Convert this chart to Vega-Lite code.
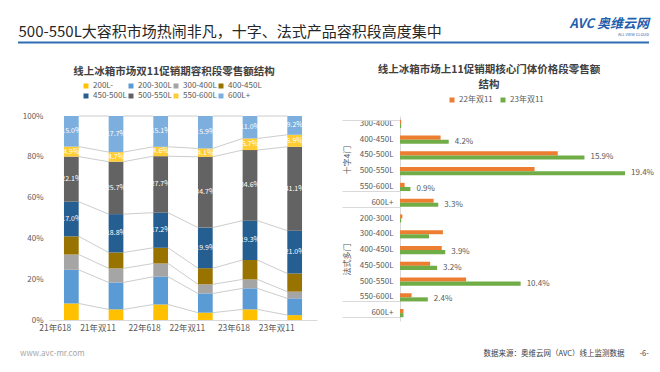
{
  "$schema": "https://vega.github.io/schema/vega-lite/v6.json",
  "background": "white",
  "padding": {"left": 17, "top": 17, "right": 0, "bottom": 0},
  "config": {
    "font": "Noto Sans CJK SC",
    "view": {"stroke": null},
    "axis": {"labelFont": "Noto Sans CJK SC", "titleFont": "Noto Sans CJK SC"},
    "legend": {"labelFont": "Noto Sans CJK SC"},
    "title": {"font": "Noto Sans CJK SC", "subtitleFont": "Noto Sans CJK SC"}
  },
  "spacing": 20,
  "resolve": {"scale": {"color": "independent"}, "legend": {"color": "independent"}},
  "vconcat": [
    {
      "width": 600,
      "height": 1,
      "title": {"text": "AVC 奥维云网", "subtitle": "ALL VIEW CLOUD", "orient": "bottom", "anchor": "end", "frame": "group", "offset": -26,
        "fontSize": 13, "fontWeight": "bold", "fontStyle": "italic", "color": "#1F5FAD",
        "subtitleFontSize": 4, "subtitleColor": "#1F5FAD", "subtitlePadding": 2},
      "data": {"values": [{}]},
      "mark": {"type": "rule", "color": "#2E6DB4", "strokeWidth": 2},
      "encoding": {
        "x": {"datum": 0, "type": "quantitative", "scale": {"domain": [0, 1], "range": [-31, 600]},
          "axis": {"orient": "bottom", "domain": false, "ticks": false, "labels": false, "grid": false,
            "title": "500-550L大容积市场热闹非凡，十字、法式产品容积段高度集中",
            "titleX": -31, "titleY": -7, "titleAlign": "left", "titleBaseline": "alphabetic",
            "titleFontSize": 15, "titleFontWeight": "normal", "titleColor": "#262626"}},
        "x2": {"datum": 1}
      }
    },
    {
      "spacing": 14,
      "resolve": {"scale": {"color": "independent"}, "legend": {"color": "independent"}},
      "vconcat": [
        {
          "spacing": 24,
          "resolve": {"scale": {"color": "independent"}, "legend": {"color": "independent"}},
          "hconcat": [
            {
              "width": 268,
              "height": 204,
              "title": {"text": "线上冰箱市场双11促销期容积段零售额结构", "fontSize": 10.5, "fontWeight": "bold", "color": "#404040", "offset": 5, "anchor": "middle", "dx": -9},
              "data": {"values": [
                {"period": "21年618", "seg": "200L-", "v": 0.081},
                {"period": "21年618", "seg": "200-300L", "v": 0.165},
                {"period": "21年618", "seg": "300-400L", "v": 0.075},
                {"period": "21年618", "seg": "400-450L", "v": 0.089},
                {"period": "21年618", "seg": "450-500L", "v": 0.170},
                {"period": "21年618", "seg": "500-550L", "v": 0.221},
                {"period": "21年618", "seg": "550-600L", "v": 0.049},
                {"period": "21年618", "seg": "600L+", "v": 0.150},
                {"period": "21年双11", "seg": "200L-", "v": 0.052},
                {"period": "21年双11", "seg": "200-300L", "v": 0.132},
                {"period": "21年双11", "seg": "300-400L", "v": 0.069},
                {"period": "21年双11", "seg": "400-450L", "v": 0.078},
                {"period": "21年双11", "seg": "450-500L", "v": 0.188},
                {"period": "21年双11", "seg": "500-550L", "v": 0.257},
                {"period": "21年双11", "seg": "550-600L", "v": 0.047},
                {"period": "21年双11", "seg": "600L+", "v": 0.177},
                {"period": "22年618", "seg": "200L-", "v": 0.076},
                {"period": "22年618", "seg": "200-300L", "v": 0.136},
                {"period": "22年618", "seg": "300-400L", "v": 0.065},
                {"period": "22年618", "seg": "400-450L", "v": 0.077},
                {"period": "22年618", "seg": "450-500L", "v": 0.172},
                {"period": "22年618", "seg": "500-550L", "v": 0.277},
                {"period": "22年618", "seg": "550-600L", "v": 0.046},
                {"period": "22年618", "seg": "600L+", "v": 0.151},
                {"period": "22年双11", "seg": "200L-", "v": 0.036},
                {"period": "22年双11", "seg": "200-300L", "v": 0.094},
                {"period": "22年双11", "seg": "300-400L", "v": 0.045},
                {"period": "22年双11", "seg": "400-450L", "v": 0.079},
                {"period": "22年双11", "seg": "450-500L", "v": 0.199},
                {"period": "22年双11", "seg": "500-550L", "v": 0.347},
                {"period": "22年双11", "seg": "550-600L", "v": 0.041},
                {"period": "22年双11", "seg": "600L+", "v": 0.159},
                {"period": "23年618", "seg": "200L-", "v": 0.052},
                {"period": "23年618", "seg": "200-300L", "v": 0.103},
                {"period": "23年618", "seg": "300-400L", "v": 0.044},
                {"period": "23年618", "seg": "400-450L", "v": 0.095},
                {"period": "23年618", "seg": "450-500L", "v": 0.193},
                {"period": "23年618", "seg": "500-550L", "v": 0.346},
                {"period": "23年618", "seg": "550-600L", "v": 0.057},
                {"period": "23年618", "seg": "600L+", "v": 0.110},
                {"period": "23年双11", "seg": "200L-", "v": 0.024},
                {"period": "23年双11", "seg": "200-300L", "v": 0.082},
                {"period": "23年双11", "seg": "300-400L", "v": 0.033},
                {"period": "23年双11", "seg": "400-450L", "v": 0.089},
                {"period": "23年双11", "seg": "450-500L", "v": 0.210},
                {"period": "23年双11", "seg": "500-550L", "v": 0.411},
                {"period": "23年双11", "seg": "550-600L", "v": 0.059},
                {"period": "23年双11", "seg": "600L+", "v": 0.092}
              ]},
              "transform": [
                {"stack": "v", "groupby": ["period"], "as": ["v0", "v1"]},
                {"window": [{"op": "lead", "field": "v1", "as": "nv1"}, {"op": "lead", "field": "period", "as": "np"}], "groupby": ["seg"], "sort": [{"field": "period", "order": "ascending"}]}
              ],
              "layer": [
                {
                  "transform": [{"filter": "isValid(datum.np)"}],
                  "mark": {"type": "rule", "color": "#BFBFBF", "strokeWidth": 0.8},
                  "encoding": {
                    "x": {"field": "period", "type": "nominal", "bandPosition": 1},
                    "x2": {"field": "np", "bandPosition": 0},
                    "y": {"field": "v1", "type": "quantitative"},
                    "y2": {"field": "nv1"}
                  }
                },
                {
                  "mark": {"type": "bar"},
                  "encoding": {
                    "x": {"field": "period", "type": "nominal", "sort": null,
                      "scale": {"paddingInner": 0.67, "paddingOuter": 0.335},
                      "axis": {"title": null, "labelAngle": 0, "labelFontSize": 8.5, "labelColor": "#595959", "labelPadding": 7, "ticks": false, "bandPosition": 0.5, "domainColor": "#D9D9D9", "domainWidth": 1}},
                    "y": {"field": "v1", "type": "quantitative",
                      "scale": {"domain": [0, 1], "nice": false},
                      "axis": {"title": null, "values": [0, 0.1, 0.2, 0.3, 0.4, 0.5, 0.6, 0.7, 0.8, 0.9, 1], "format": ".0%", "grid": false, "domain": false, "ticks": false, "labelFontSize": 8, "labelColor": "#595959", "labelPadding": 6, "minExtent": 31}},
                    "y2": {"field": "v0"},
                    "color": {"field": "seg", "type": "nominal",
                      "scale": {"domain": ["200L-", "200-300L", "300-400L", "400-450L", "450-500L", "500-550L", "550-600L", "600L+"],
                        "range": ["#FFC000", "#5B9BD5", "#A5A5A5", "#997300", "#255E91", "#636363", "#FFCD33", "#7CAFDD"]},
                      "legend": {"orient": "none", "legendX": 33, "legendY": -34, "columns": 4, "direction": "horizontal", "title": null,
                        "symbolType": "square", "symbolSize": 25, "symbolStrokeWidth": 0, "labelFontSize": 8, "labelColor": "#595959",
                        "columnPadding": 0, "rowPadding": 2, "labelOffset": 3}}
                  }
                },
                {
                  "mark": {"type": "text", "color": "white", "fontSize": 7},
                  "encoding": {
                    "x": {"field": "period", "type": "nominal"},
                    "y": {"field": "v", "type": "quantitative", "stack": "zero", "bandPosition": 0.5},
                    "detail": {"field": "seg"},
                    "order": {"field": "v0", "type": "quantitative"},
                    "text": {"condition": {"test": "indexof(['450-500L','500-550L','550-600L','600L+'], datum.seg) >= 0", "field": "v", "format": ".1%"}, "value": ""}
                  }
                }
              ]
            },
            {
              "width": 232,
              "height": 205,
              "title": {"text": ["线上冰箱市场上11促销期核心门体价格段零售额", "结构"], "fontSize": 10.5, "fontWeight": "bold", "color": "#404040", "offset": 6, "lineHeight": 15, "anchor": "middle", "dx": -27},
              "data": {"values": [
                {"g": "十字4门", "key": "十字4门|300-400L", "year": "22年双11", "v": 0.001},
                {"g": "十字4门", "key": "十字4门|300-400L", "year": "23年双11", "v": 0.001},
                {"g": "十字4门", "key": "十字4门|400-450L", "year": "22年双11", "v": 0.035},
                {"g": "十字4门", "key": "十字4门|400-450L", "year": "23年双11", "v": 0.042, "label": "4.2%"},
                {"g": "十字4门", "key": "十字4门|450-500L", "year": "22年双11", "v": 0.136},
                {"g": "十字4门", "key": "十字4门|450-500L", "year": "23年双11", "v": 0.159, "label": "15.9%"},
                {"g": "十字4门", "key": "十字4门|500-550L", "year": "22年双11", "v": 0.116},
                {"g": "十字4门", "key": "十字4门|500-550L", "year": "23年双11", "v": 0.194, "label": "19.4%"},
                {"g": "十字4门", "key": "十字4门|550-600L", "year": "22年双11", "v": 0.004},
                {"g": "十字4门", "key": "十字4门|550-600L", "year": "23年双11", "v": 0.009, "label": "0.9%"},
                {"g": "十字4门", "key": "十字4门|600L+", "year": "22年双11", "v": 0.029},
                {"g": "十字4门", "key": "十字4门|600L+", "year": "23年双11", "v": 0.033, "label": "3.3%"},
                {"g": "法式多门", "key": "法式多门|200-300L", "year": "22年双11", "v": 0.002},
                {"g": "法式多门", "key": "法式多门|200-300L", "year": "23年双11", "v": 0.001},
                {"g": "法式多门", "key": "法式多门|300-400L", "year": "22年双11", "v": 0.037},
                {"g": "法式多门", "key": "法式多门|300-400L", "year": "23年双11", "v": 0.025},
                {"g": "法式多门", "key": "法式多门|400-450L", "year": "22年双11", "v": 0.036},
                {"g": "法式多门", "key": "法式多门|400-450L", "year": "23年双11", "v": 0.039, "label": "3.9%"},
                {"g": "法式多门", "key": "法式多门|450-500L", "year": "22年双11", "v": 0.026},
                {"g": "法式多门", "key": "法式多门|450-500L", "year": "23年双11", "v": 0.032, "label": "3.2%"},
                {"g": "法式多门", "key": "法式多门|500-550L", "year": "22年双11", "v": 0.057},
                {"g": "法式多门", "key": "法式多门|500-550L", "year": "23年双11", "v": 0.104, "label": "10.4%"},
                {"g": "法式多门", "key": "法式多门|550-600L", "year": "22年双11", "v": 0.010},
                {"g": "法式多门", "key": "法式多门|550-600L", "year": "23年双11", "v": 0.024, "label": "2.4%"},
                {"g": "法式多门", "key": "法式多门|600L+", "year": "22年双11", "v": 0.003},
                {"g": "法式多门", "key": "法式多门|600L+", "year": "23年双11", "v": 0.003}
              ]},
              "layer": [
                {
                  "mark": {"type": "bar"},
                  "encoding": {
                    "y": {"field": "key", "type": "nominal",
                      "scale": {"domain": ["十字4门|300-400L", "十字4门|400-450L", "十字4门|450-500L", "十字4门|500-550L", "十字4门|550-600L", "十字4门|600L+", "法式多门|200-300L", "法式多门|300-400L", "法式多门|400-450L", "法式多门|450-500L", "法式多门|500-550L", "法式多门|550-600L", "法式多门|600L+"],
                        "paddingInner": 0.48, "paddingOuter": 0.24},
                      "axis": {"orient": "left", "title": null, "labelExpr": "split(datum.value, '|')[1]", "ticks": false, "domainColor": "#D9D9D9", "domainWidth": 1, "labelPadding": 7, "labelFontSize": 8, "labelColor": "#595959", "grid": false}},
                    "yOffset": {"field": "year", "type": "nominal", "scale": {"domain": ["22年双11", "23年双11"], "paddingInner": 0, "paddingOuter": 0}},
                    "x": {"field": "v", "type": "quantitative", "scale": {"domain": [0, 0.2], "nice": false}, "axis": null},
                    "color": {"field": "year", "type": "nominal",
                      "scale": {"domain": ["22年双11", "23年双11"], "range": ["#ED7D31", "#70AD47"]},
                      "legend": {"orient": "none", "legendX": 48, "legendY": -20, "direction": "horizontal", "title": null,
                        "symbolType": "square", "symbolSize": 25, "symbolStrokeWidth": 0, "labelFontSize": 8, "labelColor": "#595959", "columnPadding": 6, "labelOffset": 3}}
                  }
                },
                {
                  "transform": [{"filter": "isValid(datum.label)"}],
                  "mark": {"type": "text", "align": "left", "baseline": "middle", "dx": 6, "fontSize": 8, "color": "#595959"},
                  "encoding": {
                    "y": {"field": "key", "type": "nominal",
                      "axis": {"orient": "left", "title": null, "domain": false, "grid": false,
                        "ticks": true, "tickBand": "extent", "tickSize": 58, "tickColor": "#D9D9D9", "tickWidth": 1,
                        "tickOpacity": {"condition": {"test": "datum.extra || test(/600L/, datum.value)", "value": 1}, "value": 0},
                        "labelExpr": "datum.value == '十字4门|450-500L' ? '十字4门' : datum.value == '法式多门|400-450L' ? '法式多门' : ''",
                        "labelAngle": 270, "labelAlign": "center", "labelBaseline": "middle", "labelPadding": -5,
                        "labelOffset": {"condition": {"test": "datum.value == '法式多门|400-450L'", "value": 9}, "value": 4},
                        "labelFontSize": 8, "labelColor": "#595959"}},
                    "yOffset": {"field": "year", "type": "nominal"},
                    "x": {"field": "v", "type": "quantitative"},
                    "text": {"field": "label"}
                  }
                }
              ],
              "resolve": {"axis": {"y": "independent"}}
            }
          ]
        },
        {
          "width": 600,
          "height": 1,
          "title": {"text": "www.avc-mr.com", "orient": "bottom", "anchor": "start", "frame": "group", "dx": -29, "offset": -8,
            "fontSize": 8, "fontWeight": "normal", "color": "#A6A6A6"},
          "data": {"values": [{}]},
          "mark": {"type": "text", "text": ""},
          "encoding": {
            "x": {"datum": 0, "type": "quantitative", "scale": {"domain": [0, 1]},
              "axis": {"orient": "bottom", "domain": false, "ticks": false, "labels": false, "grid": false,
                "title": "数据来源：奥维云网（AVC）线上监测数据\u2003\u2003-6-", "titleX": 434, "titleY": 0, "titleAlign": "left", "titleBaseline": "middle",
                "titleFontSize": 7.5, "titleFontWeight": "normal", "titleColor": "#404040"}}
          }
        }
      ]
    }
  ]
}
